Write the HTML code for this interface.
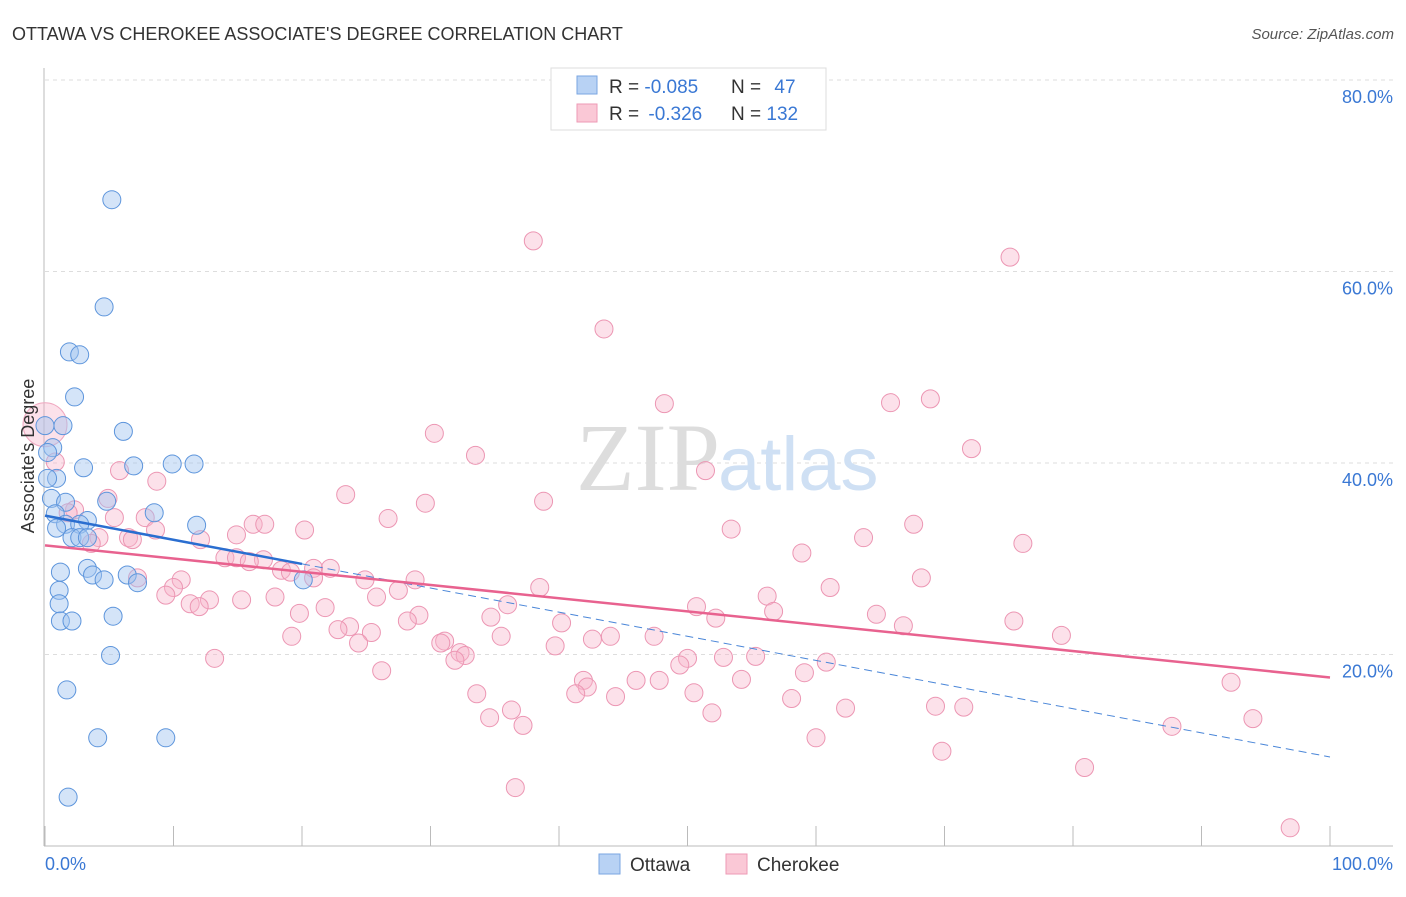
<!DOCTYPE html>
<html><head><meta charset="utf-8"><style>
body{margin:0;background:#fff;font-family:"Liberation Sans",sans-serif}
</style></head><body>
<svg id="c" width="1406" height="892" xmlns="http://www.w3.org/2000/svg" font-family="Liberation Sans, sans-serif">
<text x="12" y="40" font-size="18" fill="#333">OTTAWA VS CHEROKEE ASSOCIATE'S DEGREE CORRELATION CHART</text>
<text x="1394" y="39" font-size="15" fill="#555" text-anchor="end" font-style="italic">Source: ZipAtlas.com</text>
<g id="grid"></g>
<text x="720" y="490" font-size="96" fill="#ddd" text-anchor="end" font-family="Liberation Serif, serif">ZIP</text>
<text x="718" y="490" font-size="76" fill="#cfe0f4">atlas</text>
<g id="pts"></g>
<g id="lines"></g>
<text transform="translate(34,456) rotate(-90)" font-size="18" fill="#333" text-anchor="middle">Associate's Degree</text>
<text x="45" y="870" font-size="18" fill="#3a78d4">0.0%</text>
<text x="1393" y="870" font-size="18" fill="#3a78d4" text-anchor="end">100.0%</text>
<g>
<rect x="551" y="68" width="275" height="62" fill="#fff" stroke="#ddd"/>
<rect x="577" y="76" width="20" height="18" fill="#b8d2f4" stroke="#7aa6e2"/>
<rect x="577" y="104" width="20" height="18" fill="#fac8d6" stroke="#ee9ab5"/>
<text x="609" y="93" font-size="19" fill="#333">R = <tspan fill="#3a78d4">-0.085</tspan></text>
<text x="731" y="93" font-size="19" fill="#333">N = <tspan fill="#3a78d4" dx="8">47</tspan></text>
<text x="609" y="120" font-size="19" fill="#333">R = <tspan fill="#3a78d4" dx="4">-0.326</tspan></text>
<text x="731" y="120" font-size="19" fill="#333">N = <tspan fill="#3a78d4">132</tspan></text>
</g>
<g>
<rect x="599" y="854" width="21" height="20" fill="#b8d2f4" stroke="#7aa6e2"/>
<text x="630" y="871" font-size="19" fill="#333">Ottawa</text>
<rect x="726" y="854" width="21" height="20" fill="#fac8d6" stroke="#ee9ab5"/>
<text x="757" y="871" font-size="19" fill="#333">Cherokee</text>
</g>
</svg>
<script>
const yTicks=[20,40,60,80];
const yTickLabels=["20.0%","40.0%","60.0%","80.0%"];
const xTicks=[0,10,20,30,40,50,60,70,80,90,100];
const ottawaX=[5.2,4.6,1.9,2.7,2.3,6.1,0,1.4,0.6,0.2,3.0,6.9,9.9,11.6,0.9,0.2,0.5,1.6,4.8,8.5,0.8,3.3,1.6,2.7,0.9,11.8,2.1,2.7,3.3,1.2,3.3,3.7,4.6,6.4,7.2,20.1,1.1,1.1,1.2,2.1,5.3,5.1,1.7,4.1,9.4,1.8];
const ottawaY=[67.5,56.3,51.6,51.3,46.9,43.3,43.9,43.9,41.6,41.1,39.5,39.7,39.9,39.9,38.4,38.4,36.3,35.9,36.0,34.8,34.7,34.0,33.6,33.6,33.2,33.5,32.2,32.2,32.2,28.6,29.0,28.3,27.8,28.3,27.5,27.8,26.7,25.3,23.5,23.5,24.0,19.9,16.3,11.3,11.3,5.1];
const cherokeeX=[38.0,75.1,43.5,48.2,65.8,68.9,30.3,33.5,51.4,72.1,0.8,5.8,8.7,4.9,23.4,29.6,38.8,26.7,67.6,53.4,2.3,1.8,5.4,7.8,16.2,17.1,20.2,14.9,8.6,12.1,6.5,4.2,3.6,6.8,76.1,63.7,58.9,14.0,14.9,17.0,15.9,18.4,20.9,22.2,20.9,19.1,24.9,28.8,68.2,7.2,10.6,10.0,9.4,12.8,11.3,12.0,15.3,17.9,25.8,27.5,38.5,56.2,61.1,21.8,19.8,36.0,34.7,29.1,28.2,50.7,56.7,52.2,64.7,66.8,75.4,40.2,23.7,22.8,25.4,19.2,35.5,42.6,44.0,47.4,79.1,31.1,30.8,24.4,39.7,32.3,32.7,31.9,52.8,55.3,60.8,50.0,13.2,49.4,26.2,59.1,46.0,47.8,41.9,42.2,92.3,54.2,33.6,50.5,41.3,44.4,58.1,62.3,69.3,71.5,36.3,34.6,51.9,37.2,87.7,94.0,60.0,69.8,80.9,36.6,96.9];
const cherokeeY=[63.2,61.5,54.0,46.2,46.3,46.7,43.1,40.8,39.2,41.5,40.1,39.2,38.1,36.3,36.7,35.8,36.0,34.2,33.6,33.1,35.1,34.8,34.3,34.3,33.6,33.6,33.0,32.5,33.0,32.0,32.2,32.2,31.6,32.0,31.6,32.2,30.6,30.1,30.1,29.9,29.7,28.8,29.0,29.0,28.0,28.6,27.8,27.8,28.0,28.0,27.8,27.0,26.2,25.7,25.3,25.0,25.7,26.0,26.0,26.7,27.0,26.1,27.0,24.9,24.3,25.2,23.9,24.1,23.5,25.0,24.5,23.8,24.2,23.0,23.5,23.3,22.9,22.6,22.3,21.9,21.9,21.6,21.9,21.9,22.0,21.4,21.2,21.2,20.9,20.2,19.9,19.4,19.7,19.8,19.2,19.6,19.6,18.9,18.3,18.1,17.3,17.3,17.3,16.6,17.1,17.4,15.9,16.0,15.9,15.6,15.4,14.4,14.6,14.5,14.2,13.4,13.9,12.6,12.5,13.3,11.3,9.9,8.2,6.1,1.9];
const ottawaTrend=[34.5,-0.252];
const cherokeeTrend=[31.4,-0.138];
const NS="http://www.w3.org/2000/svg";
const sx=v=>45+v*12.85, sy=v=>846-v*9.575;
function mk(t,a,p){const e=document.createElementNS(NS,t);for(const k in a)e.setAttribute(k,a[k]);p.appendChild(e);return e;}
const grid=document.getElementById('grid');
yTicks.forEach((t,i)=>{
 const l=mk('line',{x1:45,x2:1393,y1:sy(t),y2:sy(t),stroke:'#ddd','stroke-dasharray':'4,4'},grid);
 
 
 const tx=mk('text',{x:1393,y:sy(t)+23,'font-size':18,fill:'#3a78d4','text-anchor':'end'},grid);
 tx.textContent=yTickLabels[i];
 
 
});
const ax=mk('line',{x1:44,x2:44,y1:68,y2:846,stroke:'#bbb'},grid);


const bx=mk('line',{x1:44,x2:1393,y1:846,y2:846,stroke:'#bbb'},grid);


xTicks.forEach(t=>{
 const l=mk('line',{x1:sx(t),x2:sx(t),y1:826,y2:846,stroke:'#bbb'},grid);
 
 
});
const pts=document.getElementById('pts');
const big=mk('circle',{cx:sx(0),cy:sy(44),r:22,fill:'rgba(245,170,195,0.35)',stroke:'#f0a8c0'},pts);


cherokeeX.forEach((x,i)=>{
 const c=mk('circle',{cx:sx(x),cy:sy(cherokeeY[i]),r:9,fill:'rgba(248,180,202,0.4)',stroke:'#ec96b3','stroke-width':1},pts);
 
 
});
ottawaX.forEach((x,i)=>{
 const c=mk('circle',{cx:sx(x),cy:sy(ottawaY[i]),r:9,fill:'rgba(160,196,240,0.45)',stroke:'#5d95dc','stroke-width':1},pts);
 
 
});
const lines=document.getElementById('lines');
const f=(t,x)=>t[0]+t[1]*x;
const d=mk('line',{x1:sx(20),y1:sy(f(ottawaTrend,20)),x2:sx(100),y2:sy(f(ottawaTrend,100)),stroke:'#4a86d8','stroke-width':1,'stroke-dasharray':'8,5'},lines);


const pl=mk('line',{x1:sx(0),y1:sy(f(cherokeeTrend,0)),x2:sx(100),y2:sy(f(cherokeeTrend,100)),stroke:'#e8628f','stroke-width':2.5},lines);


const bl=mk('line',{x1:sx(0),y1:sy(f(ottawaTrend,0)),x2:sx(20),y2:sy(f(ottawaTrend,20)),stroke:'#2a6ed0','stroke-width':2.5},lines);


</script>
</body></html>
